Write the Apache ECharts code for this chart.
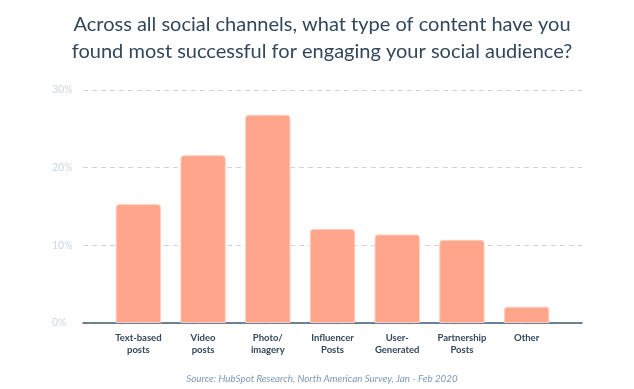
<!DOCTYPE html>
<html>
<head>
<meta charset="utf-8">
<script src="https://cdn.jsdelivr.net/npm/echarts@6/dist/echarts.min.js"></script>
<style>
html,body{margin:0;padding:0;background:#fff;}
#c{width:634px;height:389px;}
</style>
</head>
<body>
<div id="c"></div>
<script>
var titleText = 'Across all social channels, what type of content have you\nfound most successful for engaging your social audience?';
var sourceText = 'Source: HubSpot Research, North American Survey, Jan - Feb 2020';
var categories = ['Text-based\nposts', 'Video\nposts', 'Photo/\nimagery', 'Influencer\nPosts', 'User-\nGenerated', 'Partnership\nPosts', 'Other'];
var values = [15.3, 21.6, 26.8, 12.1, 11.4, 10.7, 2.1];
var yTicks = [0, 10, 20, 30];

var chart = echarts.init(document.getElementById('c'), null, {renderer: 'canvas'});
chart.setOption({
  animation: false,
  backgroundColor: '#ffffff',
  title: [{
    text: titleText,
    left: 317,
    top: 6,
    textAlign: 'center',
    textStyle: {
      color: '#33475b',
      fontFamily: 'Lato',
      fontWeight: 'normal',
      fontSize: 20,
      lineHeight: 27
    }
  }, {
    text: sourceText,
    left: 317,
    top: 369,
    textAlign: 'center',
    textStyle: {
      color: '#7c98b6',
      fontFamily: 'Lato',
      fontStyle: 'italic',
      fontWeight: 'normal',
      fontSize: 9.8
    }
  }],
  grid: [
    {left: 83, right: 52, top: 90, bottom: 66},
    {left: 106, right: 75, top: 90, bottom: 66}
  ],
  xAxis: [{
    gridIndex: 0,
    type: 'category',
    data: [''],
    axisLine: {show: true, lineStyle: {color: '#425b76', width: 1.5}},
    axisTick: {show: false},
    axisLabel: {show: false},
    splitLine: {show: false}
  }, {
    gridIndex: 1,
    type: 'category',
    data: categories,
    axisLine: {show: false},
    axisTick: {show: false},
    axisLabel: {
      color: '#33475b',
      fontFamily: 'Lato',
      fontWeight: 'bold',
      fontSize: 9.5,
      lineHeight: 12,
      margin: 9,
      interval: 0
    }
  }],
  yAxis: [{
    gridIndex: 0,
    type: 'value',
    min: yTicks[0],
    max: yTicks[yTicks.length - 1],
    interval: 10,
    axisLine: {show: false},
    axisTick: {show: false},
    axisLabel: {
      formatter: '{value}%',
      color: '#cbd6e2',
      fontFamily: 'Lato',
      fontSize: 10.5,
      align: 'left',
      margin: 31
    },
    splitLine: {show: true, lineStyle: {color: '#cbd6e2', type: [5, 4], width: 1}}
  }, {
    gridIndex: 1,
    type: 'value',
    min: yTicks[0],
    max: yTicks[yTicks.length - 1],
    interval: 10,
    show: false,
    splitLine: {show: false}
  }],
  series: [{
    type: 'bar',
    xAxisIndex: 1,
    yAxisIndex: 1,
    data: values,
    barCategoryGap: '30%',
    itemStyle: {
      color: '#fea58c',
      borderColor: '#ffcdbd',
      borderWidth: 1,
      borderRadius: [3, 3, 0, 0]
    },
    z: 1
  }]
});
</script>
</body>
</html>
